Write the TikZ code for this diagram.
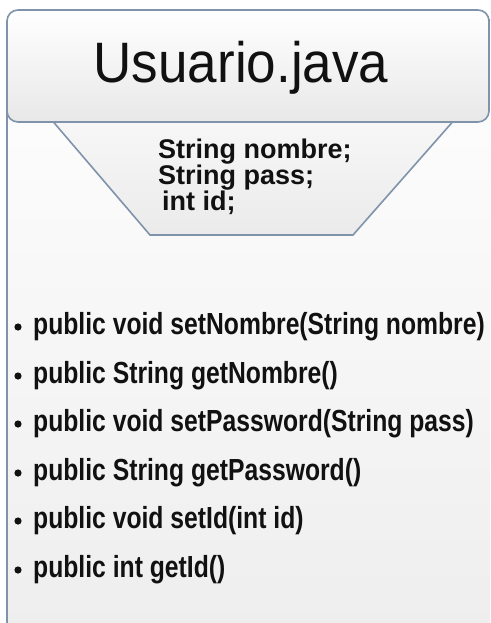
\documentclass[tikz,border=0pt]{standalone}
\usepackage{fontspec}
\setmainfont{Liberation Sans}
\definecolor{edge}{HTML}{7F93AA}
\definecolor{textc}{HTML}{111111}
\tikzset{
  frame/.style={draw=edge, line width=1.6pt, top color=white, bottom color=black!7},
  titlebox/.style={draw=edge, line width=1.6pt, rounded corners=11pt, top color=white, bottom color=black!9},
  fieldbox/.style={draw=edge, line width=1.6pt, top color=black!3, bottom color=black!8},
  titletext/.style={inner sep=0pt, anchor=base, text=textc, font=\fontsize{57}{57}\selectfont},
  fieldtext/.style={inner sep=0pt, anchor=base west, text=textc, font=\bfseries\fontsize{27}{27}\selectfont},
  methodtext/.style={inner sep=0pt, anchor=base west, text=textc, font=\bfseries\fontsize{30.5}{30.5}\selectfont},
  dot/.style={fill=textc}
}
\newcommand{\narrowtxt}[2]{\scalebox{#1}[1]{#2}}
\begin{document}
\begin{tikzpicture}[x=1pt,y=-1pt]
\useasboundingbox (0,0) rectangle (490,623);
\clip (0,0) rectangle (490,623);
% class body
\draw[frame, rounded corners=11pt] (7,20) rectangle (530,660);
% attribute compartment
\draw[fieldbox] (50,118) -- (456,118) -- (353,235) -- (150,235) -- cycle;
% class name header
\draw[titlebox] (7,10) rectangle (489,122);
\node[titletext] (title) at (241,83) {\narrowtxt{0.93}{Usuario.java}};
% attributes
\node[fieldtext] (f1) at (158,158) {\narrowtxt{1.0}{String nombre;}};
\node[fieldtext] (f2) at (158,184) {\narrowtxt{1.0}{String pass;}};
\node[fieldtext] (f3) at (162,210) {\narrowtxt{1.0}{int id;}};
% methods
\foreach \y/\n/\t in {334/m1/{public void setNombre(String nombre)},
                      383/m2/{public String getNombre()},
                      431/m3/{public void setPassword(String pass)},
                      480/m4/{public String getPassword()},
                      528/m5/{public void setId(int id)},
                      577/m6/{public int getId()}}{
  \fill[dot] (18,\y-7) circle (3.6pt);
  \node[methodtext] (\n) at (33,\y) {\narrowtxt{0.81}{\t}};
}
\end{tikzpicture}
\end{document}
